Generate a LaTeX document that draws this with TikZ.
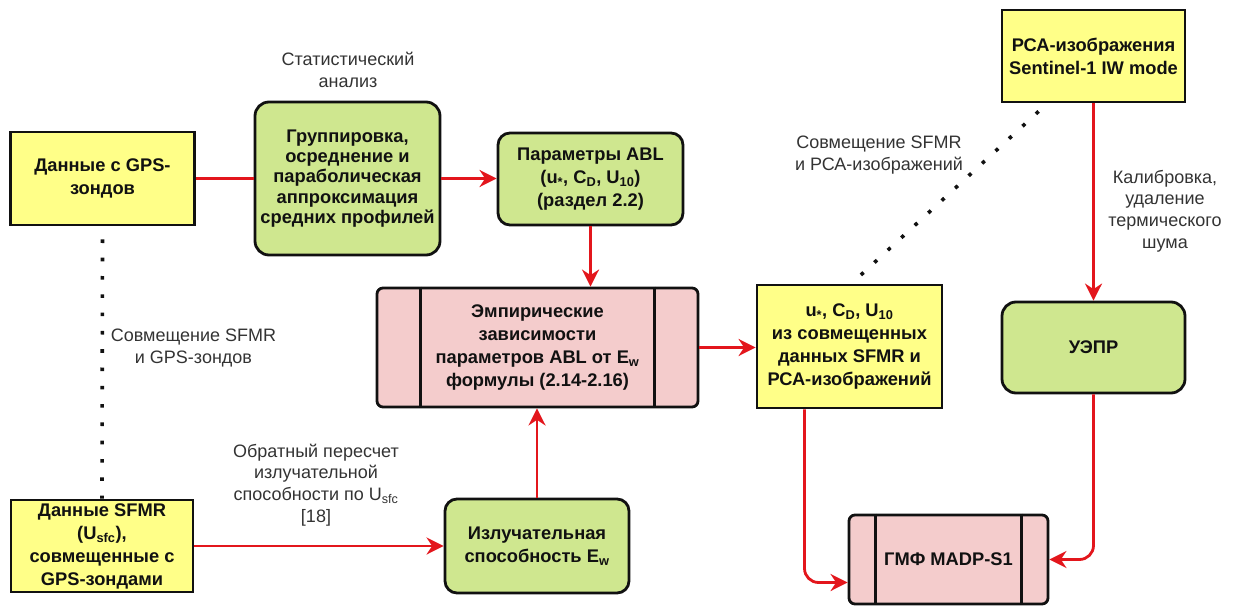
\documentclass[tikz,border=0pt]{standalone}
\usepackage{fontspec}
\setmainfont{Liberation Sans}
\usetikzlibrary{arrows.meta}
\definecolor{FigureInk}{HTML}{111111}
\definecolor{NoteInk}{HTML}{333333}
\definecolor{DataFill}{HTML}{FFFF88}
\definecolor{StageFill}{HTML}{CFE78F}
\definecolor{ModelFill}{HTML}{F4CCCC}
\definecolor{FlowRed}{HTML}{E3161C}
\tikzset{
  figure/.style={x=1pt,y=-1pt,font=\fontsize{18.3}{23}\selectfont\bfseries,text=FigureInk},
  databox/.style={draw=FigureInk,line width=2.8pt,fill=DataFill,align=center,inner sep=1pt},
  stagebox/.style={draw=FigureInk,line width=2.8pt,fill=StageFill,rounded corners=14pt,align=center,inner sep=1pt},
  modelbox/.style={draw=FigureInk,line width=2.8pt,fill=ModelFill,rounded corners=6pt,align=center,inner sep=1pt},
  flow/.style={-{Stealth[length=17pt,width=17pt,inset=5.5pt]},line width=2.8pt,draw=FlowRed,rounded corners=14pt},
  note/.style={font=\fontsize{18}{21.7}\selectfont\mdseries,text=NoteInk,align=center},
  matchline/.style={line width=3.6pt,dash pattern=on 3.6pt off 14.7pt,draw=FigureInk},
}

\begin{document}
\begin{tikzpicture}[figure]
  \useasboundingbox (0,0) rectangle (1237,607);

  % input data
  \node[databox,minimum width=184,minimum height=93] (gps) at (102.5,178.5)
    {Данные с GPS-\\зондов};
  \node[databox,minimum width=182,minimum height=92] (sfmr) at (102,546)
    {Данные SFMR\\(U\textsubscript{sfc}),\\совмещенные с\\GPS-зондами};
  \node[databox,minimum width=183,minimum height=92] (sar) at (1093.5,56)
    {РСА-изображения\\Sentinel-1 IW mode};

  % processing stages
  \node[stagebox,minimum width=185,minimum height=153,font=\fontsize{18.3}{20.4}\selectfont\bfseries] (group) at (347.5,178.5)
    {Группировка,\\осреднение и\\параболическая\\аппроксимация\\средних профилей};
  \node[stagebox,minimum width=185,minimum height=92,rounded corners=12pt] (abl) at (590.5,179)
    {Параметры ABL\\(u\textsubscript{*}, C\textsubscript{D}, U\textsubscript{10})\\(раздел 2.2)};
  \node[stagebox,minimum width=184,minimum height=94,rounded corners=12pt] (emis) at (537,546)
    {Излучательная\\способность E\textsubscript{w}};
  \node[stagebox,minimum width=183,minimum height=91] (nrcs) at (1093.5,347.5)
    {УЭПР};
  \node[databox,minimum width=185,minimum height=123] (combo) at (849.5,346.5)
    {u\textsubscript{*}, C\textsubscript{D}, U\textsubscript{10}\\из совмещенных\\данных SFMR и\\РСА-изображений};

  % models
  \node[modelbox,minimum width=321,minimum height=119] (emp) at (537.5,347.5)
    {Эмпирические\\зависимости\\параметров ABL от E\textsubscript{w}\\формулы (2.14-2.16)};
  \node[modelbox,minimum width=199,minimum height=89] (gmf) at (948.5,559.5)
    {ГМФ MADP-S1};
  \foreach \blk/\gap in {emp/45,gmf/28} {
    \draw[line width=2.8pt,draw=FigureInk] ([xshift=\gap pt]\blk.north west) -- ([xshift=\gap pt]\blk.south west);
    \draw[line width=2.8pt,draw=FigureInk] ([xshift=-\gap pt]\blk.north east) -- ([xshift=-\gap pt]\blk.south east);
  }

  % connectors
  \draw[line width=2.8pt,draw=FlowRed] (gps.east) -- (group.west);
  \draw[flow] (group.east) -- (group.east -| abl.west);
  \draw[flow] (abl.south) -- (abl.south |- emp.north);
  \draw[flow] (emis.north) -- (emis.north |- emp.south);
  \draw[flow] (emp.east) -- (emp.east -| combo.west);
  \draw[flow] (sfmr.east) -- (sfmr.east -| emis.west);
  \draw[flow] (sar.south) -- (nrcs.north);
  \draw[flow] ([xshift=-45pt]combo.south) |- ([yshift=-23pt]gmf.west);
  \draw[flow] (nrcs.south) |- (gmf.east);

  % co-location
  \draw[matchline] ([yshift=-13pt]gps.south) -- (sfmr.north);
  \draw[matchline] (sar.south west) ++(38,8) -- ([xshift=2pt]combo.north);

  % notes
  \node[note] (statnote) at (348,70) {Статистический\\анализ};
  \node[note] (gpsnote) at (193.5,348) {Совмещение SFMR\\и GPS-зондов};
  \node[note] (invnote) at (316,485) {Обратный пересчет\\излучательной\\способности по U\textsubscript{sfc}\\{[18]}};
  \node[note] (sarnote) at (879,155) {Совмещение SFMR\\и РСА-изображений};
  \node[note] (calnote) at (1165,211) {Калибровка,\\удаление\\термического\\шума};
\end{tikzpicture}
\end{document}
